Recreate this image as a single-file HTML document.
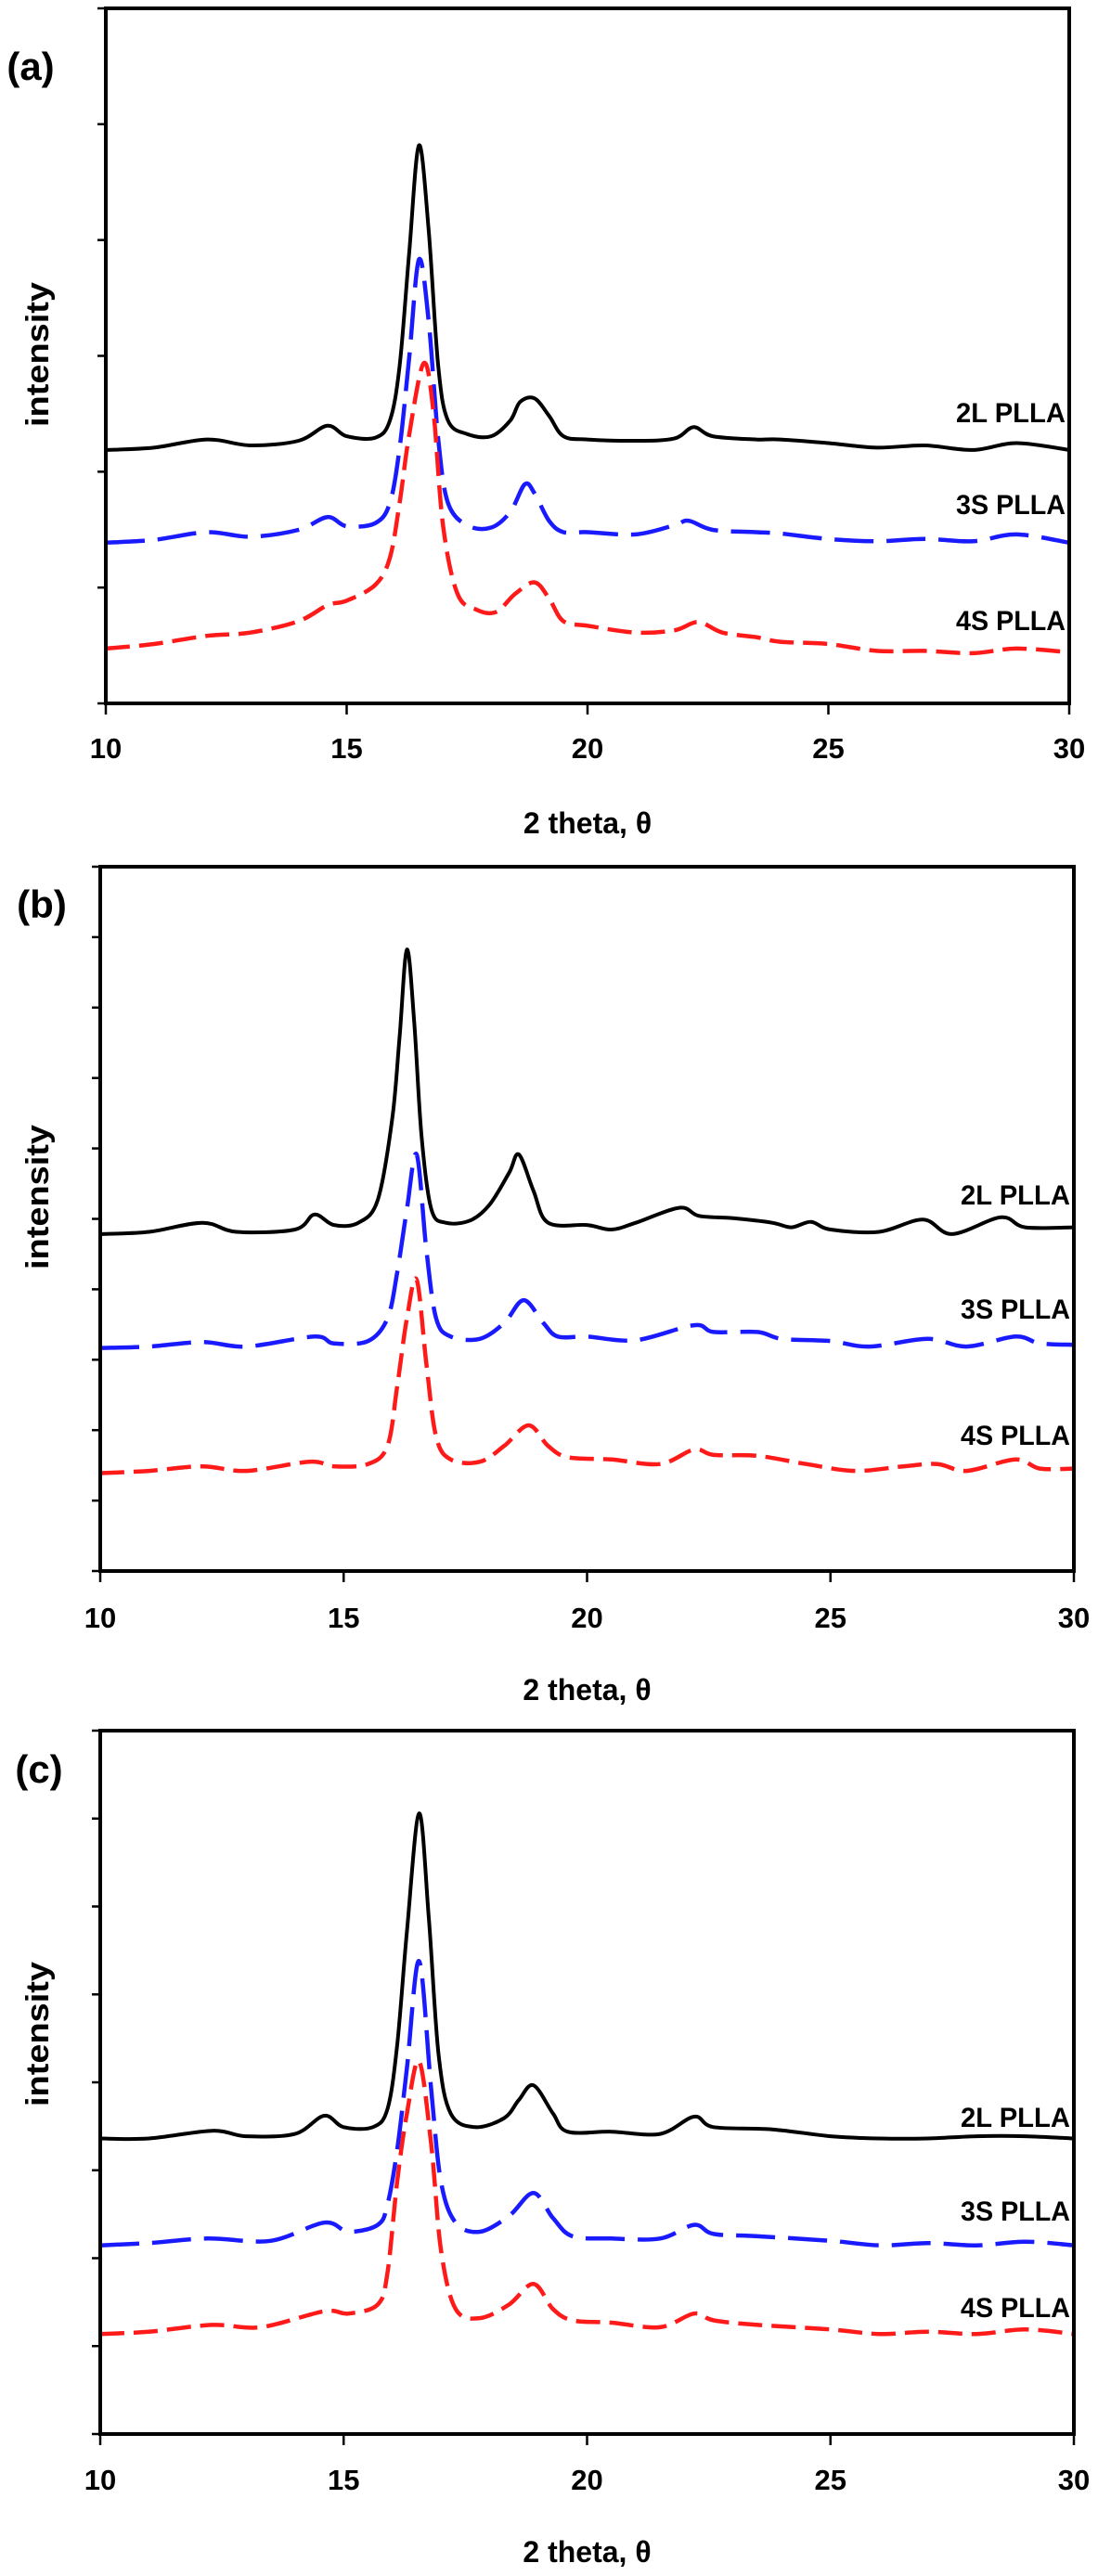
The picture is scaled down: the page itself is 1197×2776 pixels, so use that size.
<!DOCTYPE html>
<html><head><meta charset="utf-8"><title>XRD patterns of PLLA</title>
<style>
html,body{margin:0;padding:0;background:#fff;}
svg{display:block;font-family:"Liberation Sans",Arial,sans-serif;}
</style></head>
<body>
<svg id="fig" width="1197" height="2776" viewBox="0 0 1197 2776" xmlns="http://www.w3.org/2000/svg"></svg>
<script>
// ---------- data (x = 2 theta, y = intensity counts, arbitrary units) ----------
const xTicks = [10, 15, 20, 25, 30];
const seriesNames = ["2L PLLA", "3S PLLA", "4S PLLA"];

// panel (a)
const aBlackX = [10,11,12.1,13,14,14.6,15,15.6,15.9,16.1,16.3,16.5,16.7,16.9,17.1,17.5,18,18.4,18.6,18.9,19.2,19.5,20,21,21.8,22.2,22.6,23.5,24,25,26,27,28,28.9,30];
const aBlackY = [555,560,578,565,575,608,585,582,620,740,990,1222,1040,740,620,590,585,620,660,668,630,585,578,575,580,605,585,578,578,570,560,565,555,570,555];
const aBlueX = [10,11,12.1,13,14,14.6,15,15.6,15.9,16.1,16.3,16.5,16.7,16.9,17.1,17.5,18,18.4,18.7,18.9,19.2,19.5,20,21,21.8,22.1,22.6,23.5,24,25,26,27,28,28.9,30];
const aBlueY = [352,358,375,365,380,408,388,395,440,560,760,972,840,580,440,390,385,420,480,460,400,375,375,370,390,400,380,375,372,360,355,360,355,370,352];
const aRedX = [10,11,12.1,13,14,14.6,15,15.6,15.9,16.1,16.3,16.6,16.8,17.0,17.3,17.7,18.1,18.5,18.9,19.2,19.5,20,21,21.8,22.3,22.8,23.5,24,25,26,27,28,28.9,30];
const aRedY = [120,130,148,155,180,215,225,260,320,440,590,745,640,390,240,205,200,240,265,230,180,170,155,160,178,155,145,135,130,115,115,110,120,112];

// panel (b)
const bBlackX = [10,11,12.1,12.8,14,14.4,14.8,15.3,15.7,16.0,16.15,16.3,16.45,16.6,16.8,17.1,17.6,18.0,18.4,18.6,18.9,19.2,20,20.5,21,21.9,22.3,23,23.8,24.2,24.6,25,26,26.9,27.5,28.5,29,30];
const bBlackY = [740,745,765,745,750,783,760,765,815,995,1175,1365,1205,955,795,765,770,805,875,915,835,765,760,750,765,798,780,775,765,755,767,750,745,772,740,777,755,755];
const bBlueX = [10,11,12.1,13,14.4,14.8,15.5,15.9,16.1,16.3,16.5,16.7,16.9,17.2,17.8,18.3,18.7,19.1,19.4,20,21,22.2,22.6,23.5,24,25,25.8,27,27.8,28.8,29.3,30];
const bBlueY = [490,493,503,493,515,500,505,555,655,795,915,705,555,515,510,545,595,545,515,515,507,540,525,525,510,505,493,510,493,515,500,497];
const bRedX = [10,11,12.1,13,14.3,14.8,15.5,15.9,16.1,16.3,16.5,16.7,16.9,17.2,17.8,18.3,18.8,19.2,19.6,20.5,21.5,22.2,22.6,23.5,24.5,25.5,26.5,27.2,27.8,28.8,29.3,30];
const bRedY = [215,220,230,220,240,230,235,275,405,555,640,455,295,245,240,275,320,275,250,245,235,267,255,253,235,220,230,235,220,245,225,225];

// panel (c)
const cBlackX = [10,11,12.3,13,14,14.6,15,15.6,15.9,16.1,16.3,16.55,16.75,16.95,17.2,17.7,18.3,18.6,18.9,19.3,19.6,20.5,21.5,22.2,22.6,23.8,25,26,27,28,29,30];
const cBlackY = [650,650,667,655,660,700,675,675,715,855,1105,1365,1135,835,705,675,695,735,767,705,665,665,660,698,675,670,655,650,650,655,655,650];
const cBlueX = [10,11,12.2,13.5,14.6,15.1,15.7,15.9,16.1,16.3,16.55,16.8,17.0,17.3,17.8,18.4,18.9,19.3,19.7,20.5,21.5,22.2,22.6,23.5,25,26,27,28,29,30];
const cBlueY = [415,420,430,425,465,445,460,505,625,805,1040,755,555,465,445,480,530,475,435,430,430,460,440,435,425,415,420,415,423,415];
const cRedX = [10,11,12.3,13.3,14.6,15.1,15.7,15.9,16.1,16.3,16.55,16.8,17.0,17.3,17.8,18.4,18.9,19.3,19.7,20.5,21.5,22.2,22.6,23.5,25,26,27,28,29,30];
const cRedY = [220,225,240,235,270,265,285,355,555,705,820,635,405,275,255,285,330,275,250,245,235,265,250,240,230,220,225,220,230,220];

// ---------- drawing ----------
const NS = "http://www.w3.org/2000/svg";
const svg = document.getElementById("fig");
function mk(tag, attrs, parent) {
  const e = document.createElementNS(NS, tag);
  for (const k in attrs) e.setAttribute(k, attrs[k]);
  (parent || svg).appendChild(e);
  return e;
}
function smoothPath(pts) {
  let d = "M" + pts[0][0].toFixed(1) + "," + pts[0][1].toFixed(1);
  for (let i = 0; i < pts.length - 1; i++) {
    const p0 = pts[Math.max(0, i - 1)], p1 = pts[i], p2 = pts[i + 1], p3 = pts[Math.min(pts.length - 1, i + 2)];
    const c1x = p1[0] + (p2[0] - p0[0]) / 6, c1y = p1[1] + (p2[1] - p0[1]) / 6;
    const c2x = p2[0] - (p3[0] - p1[0]) / 6, c2y = p2[1] - (p3[1] - p1[1]) / 6;
    d += "C" + c1x.toFixed(1) + "," + c1y.toFixed(1) + " " + c2x.toFixed(1) + "," + c2y.toFixed(1) + " " + p2[0].toFixed(1) + "," + p2[1].toFixed(1);
  }
  return d;
}

const panels = [
  {id:"a", L:114, R:1152, T:9, B:758, ymax:1522, nTicks:6, tickLab:806, title:887, letter:[33,72], ylab:382,
   series:[[aBlackX,aBlackY],[aBlueX,aBlueY],[aRedX,aRedY]], labY:[444,543,668]},
  {id:"b", L:108, R:1157, T:934, B:1693, ymax:1547, nTicks:10, tickLab:1743, title:1821, letter:[45,975], ylab:1290,
   series:[[bBlackX,bBlackY],[bBlueX,bBlueY],[bRedX,bRedY]], labY:[1287,1410,1546]},
  {id:"c", L:108, R:1157, T:1865, B:2623, ymax:1547, nTicks:8, tickLab:2672, title:2750, letter:[42,1907], ylab:2192,
   series:[[cBlackX,cBlackY],[cBlueX,cBlueY],[cRedX,cRedY]], labY:[2281,2382,2486]}
];
const styles = [
  {stroke:"#000", w:4, dash:null, key:"2l"},
  {stroke:"#1a1aff", w:4.5, dash:"42 14", key:"3s"},
  {stroke:"#ff1a1a", w:4.5, dash:"26 10", key:"4s"}
];

panels.forEach(p => {
  const g = mk("g", {});
  
  
  const xs = v => p.L + (v - 10) / 20 * (p.R - p.L);
  const ys = v => p.B - v / p.ymax * (p.B - p.T);

  p.series.forEach((s, si) => {
    const pts = s[0].map((x, i) => [xs(x), ys(s[1][i])]);
    const st = styles[si];
    const path = mk("path", {d: smoothPath(pts), fill:"none", stroke:st.stroke, "stroke-width":st.w, "stroke-linejoin":"round"}, g);
    if (st.dash) path.setAttribute("stroke-dasharray", st.dash);
    
    
    const t = mk("text", {x:p.R - 4, y:p.labY[si] + 11, "text-anchor":"end", "font-size":"30", "font-weight":"bold", fill:"#000", textLength:"118", lengthAdjust:"spacingAndGlyphs"}, g);
    t.textContent = seriesNames[si];
    
    
  });

  const fr = mk("rect", {x:p.L, y:p.T, width:p.R - p.L, height:p.B - p.T, fill:"none", stroke:"#000", "stroke-width":4}, g);
  
  

  for (let i = 0; i <= p.nTicks; i++) {
    const y = p.B - i * (p.B - p.T) / p.nTicks;
    const tk = mk("line", {x1:p.L - 9, x2:p.L, y1:y, y2:y, stroke:"#000", "stroke-width":2.5}, g);
    
    
  }
  xTicks.forEach(v => {
    const x = xs(v);
    const tk = mk("line", {x1:x, x2:x, y1:p.B, y2:p.B + 12, stroke:"#000", "stroke-width":2.5}, g);
    
    
    const t = mk("text", {x:x, y:p.tickLab + 11, "text-anchor":"middle", "font-size":"31", "font-weight":"bold", fill:"#000"}, g);
    t.textContent = v;
    
    
  });
  const xt = mk("text", {x:(p.L + p.R) / 2, y:p.title + 11, "text-anchor":"middle", "font-size":"32", "font-weight":"bold", fill:"#000"}, g);
  xt.textContent = "2 theta, θ";
  
  
  const yt = mk("text", {x:0, y:0, transform:"translate(52," + p.ylab + ") rotate(-90)", "text-anchor":"middle", "font-size":"34", "font-weight":"bold", fill:"#000", textLength:"156", lengthAdjust:"spacingAndGlyphs"}, g);
  yt.textContent = "intensity";
  
  
  const pl = mk("text", {x:p.letter[0], y:p.letter[1] + 14, "text-anchor":"middle", "font-size":"42", "font-weight":"bold", fill:"#000"}, g);
  pl.textContent = "(" + p.id + ")";
  
  
});
</script>
</body></html>
